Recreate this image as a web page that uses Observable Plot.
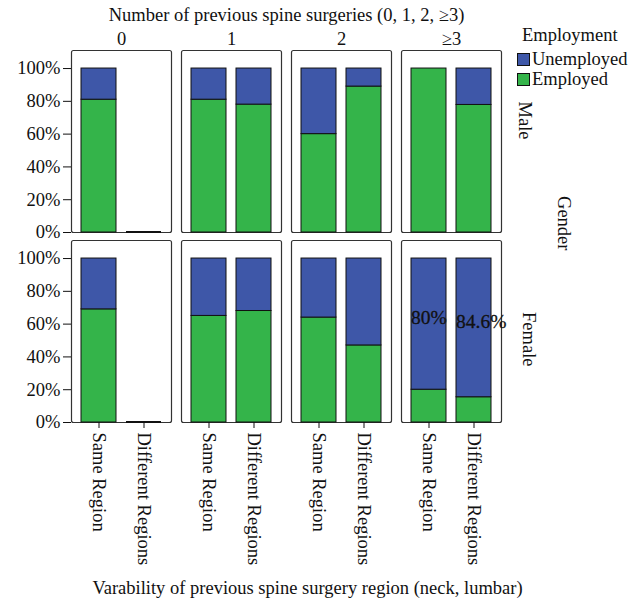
<!DOCTYPE html>
<html><head><meta charset="utf-8">
<script src="https://cdn.jsdelivr.net/npm/d3@7"></script>
<script src="https://cdn.jsdelivr.net/npm/@observablehq/plot@0.6"></script>
<style>
body{margin:0;background:#fff;font-family:"Liberation Serif",serif;}
#wrap{position:relative;width:641px;height:600px;}
#legend{position:absolute;left:517px;top:25px;font-size:18.5px;color:#111;line-height:20px;}
#legend .title{margin-left:5px;margin-bottom:4px;}
#legend .row{display:flex;align-items:center;height:20px;}
#legend .sw{display:inline-block;width:11px;height:11px;border:1px solid #111;margin-right:2px;}
</style></head><body><div id="wrap"><div id="legend"></div></div>
<script>
const surgeries = ["0", "1", "2", "≥3"];
const genders = ["Male", "Female"];
const regions = ["Same Region", "Different Regions"];
const employment = ["Employed", "Unemployed"];
const legendOrder = ["Unemployed", "Employed"];
const colors = ["#34b44a", "#3e57a8"]; // Employed, Unemployed
// order: [0 Same, 0 Diff, 1 Same, 1 Diff, 2 Same, 2 Diff, ≥3 Same, ≥3 Diff]
const employedMale = [0.81, 0, 0.81, 0.78, 0.60, 0.89, 1.00, 0.778];
const unemployedMale = [0.19, 0, 0.19, 0.22, 0.40, 0.11, 0.00, 0.222];
const employedFemale = [0.69, 0, 0.65, 0.68, 0.64, 0.47, 0.20, 0.154];
const unemployedFemale = [0.31, 0, 0.35, 0.32, 0.36, 0.53, 0.80, 0.846];
const yTicks = [0, 0.2, 0.4, 0.6, 0.8, 1];
const annotSurgery = "≥3";
const annotGender = "Female";
const annotRegions = ["Same Region", "Different Regions"];
const annotTexts = ["80%", "84.6%"];
const fxTitle = "Number of previous spine surgeries (0, 1, 2, ≥3)";
const xTitle = "Varability of previous spine surgery region (neck, lumbar)";
const fyTitle = "Gender";
const legendTitle = "Employment";

const rows = [];
const empty = [];
genders.forEach((g, gi) => {
  const emp = gi === 0 ? employedMale : employedFemale;
  const unemp = gi === 0 ? unemployedMale : unemployedFemale;
  surgeries.forEach((s, si) => regions.forEach((r, ri) => {
    const i = si * 2 + ri;
    rows.push({gender: g, surgery: s, region: r, employment: "Employed", value: emp[i]});
    rows.push({gender: g, surgery: s, region: r, employment: "Unemployed", value: unemp[i]});
    if (emp[i] + unemp[i] === 0) empty.push({gender: g, surgery: s, region: r, total: 0});
  }));
});
const annots = annotRegions.map((r, i) => {
  const idx = surgeries.indexOf(annotSurgery) * 2 + regions.indexOf(r);
  const e = annotGender === "Male" ? employedMale[idx] : employedFemale[idx];
  const u = annotGender === "Male" ? unemployedMale[idx] : unemployedFemale[idx];
  return {surgery: annotSurgery, gender: annotGender, region: r, y: e + u / 2, text: annotTexts[i]};
});

const FS = 18.5;
const chart = Plot.plot({
  width: 641, height: 600,
  marginTop: 50, marginLeft: 69, marginRight: 138, marginBottom: 178,
  style: {fontFamily: "'Liberation Serif', serif", fontSize: FS + "px", color: "#111", background: "white"},
  fx: {domain: surgeries, padding: 0.09},
  fy: {domain: genders, padding: 0.043, axis: null},
  x: {domain: regions, paddingInner: 0.23, paddingOuter: 0.225},
  y: {domain: [0, 1.11]},
  color: {domain: employment, range: colors},
  marks: [
    Plot.frame({stroke: "#333", strokeWidth: 1.2, rx: 2}),
    Plot.barY(rows, Plot.stackY({
      filter: d => d.value > 0,
      x: "region", y: "value", fx: "surgery", fy: "gender", fill: "employment",
      order: employment, stroke: "#111", strokeWidth: 1
    })),
    Plot.tickY(empty, {x: "region", y: "total", fx: "surgery", fy: "gender", stroke: "#111", strokeWidth: 2, dy: -0.5}),
    Plot.text(annots, {x: "region", y: "y", fx: "surgery", fy: "gender", text: "text",
      textAnchor: "start", dx: -18, dy: -6, fontSize: 19.5, fill: "#111", stroke: "#111", strokeWidth: 0.3}),
    Plot.axisY({ticks: yTicks, tickFormat: d3.format(".0%"), tickSize: 8, tickPadding: 3, label: null, fontSize: FS}),
    Plot.axisX({anchor: "bottom", tickRotate: 90, tickSize: 6, tickPadding: 4, label: null, fontSize: FS}),
    Plot.axisFx({anchor: "top", tickSize: 0, tickPadding: 6, label: fxTitle, labelAnchor: "center", labelOffset: 43, labelArrow: "none", fontSize: FS}),
    Plot.text([genders[0]], {fx: () => surgeries[surgeries.length - 1], fy: d => d, text: d => d,
      frameAnchor: "right", rotate: 90, dx: 23, dy: -2, fontSize: FS}),
    Plot.text([genders[1]], {fx: () => surgeries[surgeries.length - 1], fy: d => d, text: d => d,
      frameAnchor: "right", rotate: 90, dx: 27, dy: 35, fontSize: FS}),
    Plot.text([fyTitle], {facet: "super", frameAnchor: "right", rotate: 90, dx: 62, dy: 14, text: d => d, fontSize: FS}),
    Plot.text([xTitle], {facet: "super", frameAnchor: "bottom", dx: 21, dy: 171, text: d => d, fontSize: FS})
  ]
});
document.getElementById("wrap").prepend(chart);

const legend = d3.select("#legend");
legend.append("div").attr("class", "title").text(legendTitle);
legendOrder.forEach(k => {
  const row = legend.append("div").attr("class", "row");
  row.append("span").attr("class", "sw").style("background", colors[employment.indexOf(k)]);
  row.append("span").text(k);
});
</script></body></html>
